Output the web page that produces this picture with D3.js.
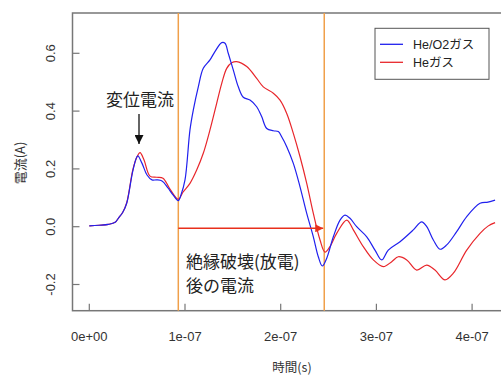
<!DOCTYPE html>
<html><head><meta charset="utf-8">
<script src="https://cdn.jsdelivr.net/npm/d3@7"></script>
<style>
html,body{margin:0;padding:0;background:#fff;}
svg{display:block;}
</style></head>
<body>
<script>
// time in ns, current in A
const blueT = [0,10,20,27,30.3,35,39.1,45.7,50.6,55,60.3,65.5,70.4,76,82.2,87.5,93,95.8,100,105.2,108.7,113.9,119.1,126.1,131.3,138.4,141.8,145.2,150.5,155.7,160.9,167.9,174.9,180.1,185.4,192.3,197.5,201,206.3,213.2,220.2,227.2,234.1,239.3,243.5,248.1,255,262,267.2,272.4,279.4,289.9,298.5,305.5,312.4,324.7,338.6,347.3,352.6,359.5,366.5,373.5,383.9,394.4,408.3,416.6,424];
const blueV = [0.003,0.005,0.008,0.015,0.029,0.05,0.081,0.196,0.245,0.22,0.179,0.162,0.162,0.158,0.134,0.11,0.09,0.11,0.162,0.335,0.404,0.484,0.548,0.577,0.606,0.637,0.635,0.6,0.542,0.484,0.448,0.438,0.415,0.381,0.34,0.332,0.329,0.311,0.277,0.219,0.138,0.046,-0.035,-0.104,-0.136,-0.109,-0.035,0.023,0.04,0.029,0.0,-0.035,-0.081,-0.115,-0.081,-0.052,-0.011,0.017,0.0,-0.046,-0.078,-0.063,-0.017,0.035,0.081,0.085,0.092];
const redT = [0,10,20,27,30.3,35,39.1,45.7,49.8,53,57.2,63.4,70.4,77,84.3,93,98,105.2,112.2,119.1,126.1,133.1,138.4,143.6,148.8,154,164.5,174.9,181.8,192.3,199.3,206.3,213.2,220.2,227.2,234.1,241.1,246.3,251.5,258.5,269,275.9,286.3,296.8,307.2,316,322.9,331.7,342.1,352.6,361.2,371.7,380.4,394.4,408.3,416.6,424];
const redV = [0.003,0.005,0.008,0.015,0.029,0.05,0.083,0.2,0.241,0.256,0.231,0.175,0.171,0.168,0.13,0.095,0.12,0.15,0.196,0.254,0.335,0.427,0.496,0.548,0.567,0.571,0.554,0.513,0.484,0.462,0.438,0.392,0.323,0.242,0.15,0.046,-0.046,-0.088,-0.069,-0.023,0.023,-0.011,-0.069,-0.115,-0.138,-0.121,-0.104,-0.115,-0.15,-0.133,-0.15,-0.184,-0.161,-0.081,-0.023,0.002,0.014];
const xTicks = [0,100,200,300,400];
const xTickLabels = ["0e+00","1e-07","2e-07","3e-07","4e-07"];
const yTicks = [-0.2,0,0.2,0.4,0.6];
const yTickLabels = ["-0.2","0.0","0.2","0.4","0.6"];
const markerT = [93, 245.5];
const seriesNames = ["He/O2ガス","Heガス"];

const W=501,H=376;
const svg=d3.select("body").append("svg").attr("width",W).attr("height",H);
const x=d3.scaleLinear().domain([0,100]).range([89.3,185]);
const y=d3.scaleLinear().domain([0,0.2]).range([226.7,168.9]);
const L=72.5,T=13,B=310.7,R=530;
const axisCol="#777", txtCol="#333";
const lab="Liberation Sans, Arial, 'Noto Sans CJK JP', sans-serif";
const cjk="'Noto Sans CJK JP', sans-serif";

svg.append("rect").attr("x",L).attr("y",T).attr("width",R-L).attr("height",B-T)
 .attr("fill","none").attr("stroke",axisCol).attr("stroke-width",1.5);

svg.selectAll(".xt").data(xTicks).enter().append("line")
 .attr("x1",d=>x(d)).attr("x2",d=>x(d)).attr("y1",B).attr("y2",B-7)
 .attr("stroke",axisCol).attr("stroke-width",1.2);
svg.selectAll(".yt").data(yTicks).enter().append("line")
 .attr("y1",d=>y(d)).attr("y2",d=>y(d)).attr("x1",L).attr("x2",L+7)
 .attr("stroke",axisCol).attr("stroke-width",1.2);

svg.selectAll(".xl").data(xTicks).enter().append("text")
 .attr("x",d=>x(d)).attr("y",341).attr("text-anchor","middle")
 .attr("font-family",lab).attr("font-size",13).attr("fill",txtCol)
 .text((d,i)=>xTickLabels[i]);
svg.selectAll(".yl").data(yTicks).enter().append("text")
 .attr("transform",d=>`translate(55,${y(d)}) rotate(-90)`).attr("text-anchor","middle")
 .attr("font-family",lab).attr("font-size",13).attr("fill",txtCol)
 .text((d,i)=>yTickLabels[i]);

svg.append("text").attr("x",292).attr("y",372).attr("text-anchor","middle")
 .attr("font-family",cjk).attr("font-size",12.5).attr("fill",txtCol).text("時間(s)");
svg.append("text").attr("transform","translate(25,163) rotate(-90)").attr("text-anchor","middle")
 .attr("font-family",cjk).attr("font-size",13).attr("fill",txtCol).text("電流(A)");

svg.selectAll(".mk").data(markerT).enter().append("line")
 .attr("x1",d=>x(d)).attr("x2",d=>x(d)).attr("y1",T).attr("y2",B)
 .attr("stroke","#f0a04a").attr("stroke-width",1.5);

const line=d3.line().x(d=>x(d[0])).y(d=>y(d[1])).curve(d3.curveCatmullRom.alpha(0.5));
svg.append("path").attr("d",line(redT.map((t,i)=>[t,redV[i]])))
 .attr("fill","none").attr("stroke","#e8262b").attr("stroke-width",1.2);
svg.append("path").attr("d",line(blueT.map((t,i)=>[t,blueV[i]])))
 .attr("fill","none").attr("stroke","#2020ee").attr("stroke-width",1.2);

const defs=svg.append("defs");
defs.append("marker").attr("id","ra").attr("viewBox","0 0 10 10").attr("refX",10).attr("refY",5)
 .attr("markerWidth",8).attr("markerHeight",8).attr("markerUnits","userSpaceOnUse").attr("orient","auto")
 .append("path").attr("d","M0,0L10,5L0,10z").attr("fill","#e8301c");
defs.append("marker").attr("id","ka").attr("viewBox","0 0 10 10").attr("refX",10).attr("refY",5)
 .attr("markerWidth",9).attr("markerHeight",9).attr("markerUnits","userSpaceOnUse").attr("orient","auto")
 .append("path").attr("d","M0,0L10,5L0,10z").attr("fill","#111");
svg.append("line").attr("x1",x(markerT[0])).attr("x2",x(markerT[1])-1).attr("y1",228.3).attr("y2",228.3)
 .attr("stroke","#e8301c").attr("stroke-width",1.5).attr("marker-end","url(#ra)");
svg.append("line").attr("x1",139).attr("x2",139).attr("y1",114).attr("y2",144)
 .attr("stroke","#111").attr("stroke-width",1.3).attr("marker-end","url(#ka)");

svg.append("text").attr("x",140).attr("y",106).attr("text-anchor","middle")
 .attr("font-family",cjk).attr("font-size",17).attr("fill","#222").text("変位電流");
svg.append("text").attr("x",186).attr("y",268).attr("font-family",cjk).attr("font-size",17)
 .attr("fill","#222").text("絶縁破壊(放電)");
svg.append("text").attr("x",186).attr("y",292).attr("font-family",cjk).attr("font-size",17)
 .attr("fill","#222").text("後の電流");

svg.append("rect").attr("x",375).attr("y",28.3).attr("width",114).attr("height",51)
 .attr("fill","#fff").attr("stroke","#555").attr("stroke-width",1);
const lc=["#2020ee","#e8262b"];
seriesNames.forEach((n,i)=>{
 const yy=44.3+i*18;
 svg.append("line").attr("x1",380).attr("x2",403).attr("y1",yy).attr("y2",yy).attr("stroke",lc[i]).attr("stroke-width",1.3);
 svg.append("text").attr("x",413).attr("y",yy+4.5).attr("font-family",lab).attr("font-size",12.5)
  .attr("fill","#222").text(n);
});
</script>
</body></html>
